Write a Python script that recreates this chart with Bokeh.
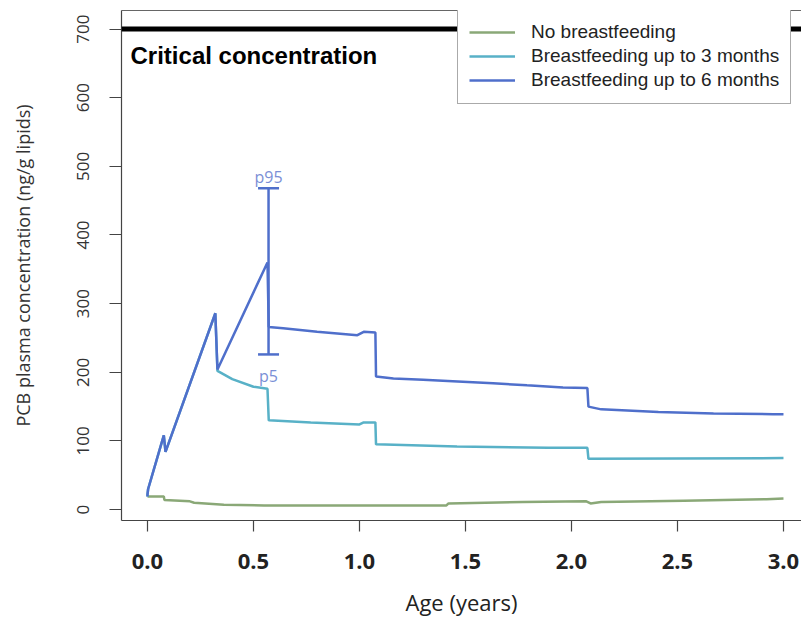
from bokeh.plotting import figure
from bokeh.models import (Range1d, FixedTicker, LinearAxis, Span, Label, Legend,
                          LegendItem, Whisker, TeeHead, ColumnDataSource, NumeralTickFormatter)
from bokeh.embed import file_html
from bokeh.resources import INLINE

# ---------------- data ----------------
age_none = [0.0, 0.077, 0.08, 0.20, 0.22, 0.36, 0.55, 1.0, 1.41, 1.42, 1.77, 2.07, 2.09, 2.14, 2.53, 2.92, 3.0]
pcb_none = [19, 19, 14, 12, 10, 7, 6, 6, 6, 9, 11, 12, 9, 11, 13, 15, 16]

age_3m = [0.0, 0.0, 0.003, 0.077, 0.085, 0.32, 0.33, 0.40, 0.50, 0.566, 0.572, 0.77, 1.0, 1.02, 1.075,
          1.078, 1.46, 1.89, 2.075, 2.08, 3.0]
pcb_3m = [19, 22, 30, 108, 84, 286, 202, 190, 179, 176, 130, 127, 124, 127, 127,
          95, 92, 90, 90, 74, 75]

age_6m = [0.0, 0.0, 0.003, 0.077, 0.085, 0.32, 0.33, 0.566, 0.572, 0.64, 0.80, 0.99, 1.02, 1.075,
          1.078, 1.16, 1.30, 1.44, 1.63, 1.79, 1.96, 2.075, 2.08, 2.14, 2.41, 2.67, 2.95, 3.0]
pcb_6m = [19, 22, 30, 108, 84, 286, 204, 360, 266, 264, 259, 254, 259, 258,
          194, 191, 189, 187, 184, 181, 178, 177, 150, 146, 142, 140, 139, 139]

whisker_age = [0.571]
p95_val = [468]
p5_val = [226]

critical = 700
x_ticks = [0.0, 0.5, 1.0, 1.5, 2.0, 2.5, 3.0]
y_ticks = [0, 100, 200, 300, 400, 500, 600, 700]
series_labels = ["No breastfeeding", "Breastfeeding up to 3 months", "Breastfeeding up to 6 months"]

# ---------------- styling ----------------
GREEN = "#8aa877"
CYAN = "#58b1c7"
BLUE = "#4f6fcb"
LBLUE = "#7b8fd6"
AX = "#444444"

p = figure(width=801, height=619,
           x_range=Range1d(-0.1226, 3.085), y_range=Range1d(-15.9, 727.0),
           output_backend="svg", toolbar_location=None,
           min_border_left=121, min_border_right=0, min_border_top=10, min_border_bottom=99)
p.background_fill_color = "white"
p.border_fill_color = "white"
p.outline_line_color = None
p.xgrid.visible = False
p.ygrid.visible = False

# x axis
xa = p.xaxis[0]
xa.ticker = FixedTicker(ticks=x_ticks)
xa.formatter = NumeralTickFormatter(format="0.0")
xa.axis_label = "Age (years)"
xa.axis_label_text_font = "Open Sans"
xa.axis_label_text_font_style = "normal"
xa.axis_label_text_font_size = "22px"
xa.axis_label_text_color = "#222222"
xa.axis_label_standoff = 15
xa.major_label_text_font = "Open Sans"
xa.major_label_text_font_style = "bold"
xa.major_label_text_font_size = "22px"
xa.major_label_text_color = "#222222"
xa.major_label_standoff = 22
xa.major_tick_in = 0
xa.major_tick_out = 11
xa.minor_tick_out = 0
xa.minor_tick_in = 0
xa.axis_line_color = AX
xa.major_tick_line_color = AX
xa.axis_line_width = 1.2
xa.major_tick_line_width = 1.2

# y axis
ya = p.yaxis[0]
ya.ticker = FixedTicker(ticks=y_ticks)
ya.axis_label = "PCB plasma concentration (ng/g lipids)"
ya.axis_label_text_font = "Open Sans"
ya.axis_label_text_font_style = "normal"
ya.axis_label_text_font_size = "18px"
ya.axis_label_text_color = "#333333"
ya.axis_label_standoff = 40
ya.major_label_text_font = "Open Sans"
ya.major_label_text_font_size = "17px"
ya.major_label_text_color = "#333333"
ya.major_label_orientation = "vertical"
ya.major_label_standoff = 20
ya.major_tick_in = 0
ya.major_tick_out = 12
ya.minor_tick_out = 0
ya.minor_tick_in = 0
ya.axis_line_color = AX
ya.major_tick_line_color = AX
ya.axis_line_width = 1.2
ya.major_tick_line_width = 1.2

# top frame line
top = LinearAxis(ticker=FixedTicker(ticks=[]), major_label_text_font_size="0px",
                 major_tick_out=0, major_tick_in=0, minor_tick_out=0, minor_tick_in=0,
                 axis_line_color="#666666", axis_line_width=1.2)
p.add_layout(top, "above")

# critical concentration line
p.add_layout(Span(location=critical, dimension="width", line_color="black", line_width=5))
p.add_layout(Label(x=-0.08, y=662, text="Critical concentration",
                   text_font="Liberation Sans", text_font_style="bold",
                   text_font_size="24px", text_color="black",
                   text_align="left", text_baseline="alphabetic"))

# curves
r_none = p.line(age_none, pcb_none, line_color=GREEN, line_width=2.5)
r_3m = p.line(age_3m, pcb_3m, line_color=CYAN, line_width=2.5)
r_6m = p.line(age_6m, pcb_6m, line_color=BLUE, line_width=2.5)

# percentile whisker
wsrc = ColumnDataSource(dict(base=whisker_age, upper=p95_val, lower=p5_val))
w = Whisker(base="base", upper="upper", lower="lower", source=wsrc, dimension="height",
            line_color=BLUE, line_width=2.5,
            upper_head=TeeHead(size=21, line_color=BLUE, line_width=2.5),
            lower_head=TeeHead(size=21, line_color=BLUE, line_width=2.5))
p.add_layout(w)
p.add_layout(Label(x=whisker_age[0], y=484, text="p95", text_font="Open Sans",
                   text_font_size="16px", text_color=LBLUE,
                   text_align="center", text_baseline="alphabetic"))
p.add_layout(Label(x=whisker_age[0], y=194, text="p5", text_font="Open Sans",
                   text_font_size="16px", text_color=LBLUE,
                   text_align="center", text_baseline="alphabetic"))

# legend
legend = Legend(items=[LegendItem(label=series_labels[0], renderers=[r_none]),
                       LegendItem(label=series_labels[1], renderers=[r_3m]),
                       LegendItem(label=series_labels[2], renderers=[r_6m])],
                location=(336, 416))
legend.label_text_font = "Liberation Sans"
legend.label_text_font_size = "19px"
legend.label_text_color = "#222222"
legend.label_height = 24
legend.glyph_height = 24
legend.glyph_width = 46
legend.label_standoff = 16
legend.padding = 11
legend.spacing = 0
legend.margin = 0
legend.border_line_color = "#555555"
legend.border_line_width = 1.2
legend.background_fill_color = "white"
legend.background_fill_alpha = 1.0
p.add_layout(legend)

open("out.html", "w").write(file_html(p, INLINE))
